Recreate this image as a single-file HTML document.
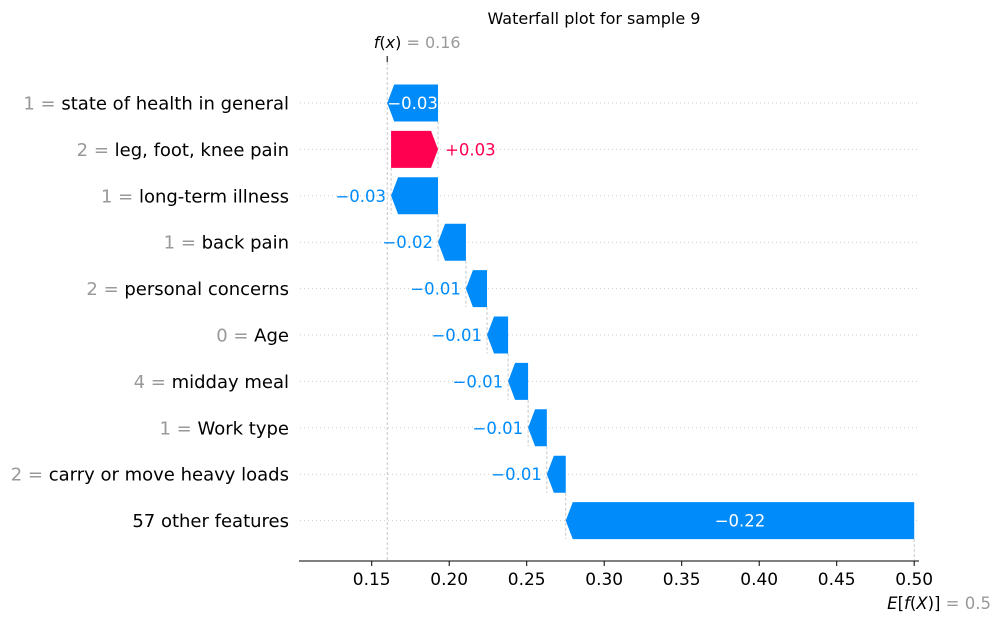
<!DOCTYPE html>
<html><head><meta charset="utf-8"><style>
body{margin:0;background:#fff;}
svg text{font-family:"DejaVu Sans","Liberation Sans",sans-serif;}
</style></head><body>
<svg id="c" width="1001" height="622" xmlns="http://www.w3.org/2000/svg">
<text x="594" y="24" font-size="16" text-anchor="middle">Waterfall plot for sample 9</text>
</svg>
<script>
const featureValues=["1","2","1","1","2","0","4","1","2",""];
const featureNames=["state of health in general","leg, foot, knee pain","long-term illness","back pain","personal concerns","Age","midday meal","Work type","carry or move heavy loads","57 other features"];
const shapValues=[-0.0328,0.0303,-0.0303,-0.018,-0.0136,-0.0136,-0.0129,-0.0121,-0.0122,-0.2248];
const valueLabels=["\u22120.03","+0.03","\u22120.03","\u22120.02","\u22120.01","\u22120.01","\u22120.01","\u22120.01","\u22120.01","\u22120.22"];
const baseValue=0.5;
const fxValue=0.16;
const tickValues=[0.15,0.20,0.25,0.30,0.35,0.40,0.45,0.50];
const tickLabels=["0.15","0.20","0.25","0.30","0.35","0.40","0.45","0.50"];

const svg=document.getElementById('c');
const NS="http://www.w3.org/2000/svg";
const X=v=>371.7+(v-0.15)*1550;
const Y=i=>103+i*46.4;
const BH=37, HEAD=7;
function mk(t,a){const e=document.createElementNS(NS,t);for(const k in a)e.setAttribute(k,a[k]);svg.appendChild(e);return e;}

for(let i=0;i<featureNames.length;i++){
  const g=mk('line',{x1:300,x2:918,y1:Y(i),y2:Y(i),stroke:'#ccc','stroke-width':1,'stroke-dasharray':'1,3'});
  
  
}
const fl=mk('line',{x1:X(fxValue),x2:X(fxValue),y1:62,y2:560,stroke:'#bbb','stroke-width':0.8,'stroke-dasharray':'3,2'});


const el=mk('line',{x1:X(baseValue),x2:X(baseValue),y1:Y(9)+BH/2,y2:560,stroke:'#bbb','stroke-width':0.8,'stroke-dasharray':'3,2'});


const ft=mk('line',{x1:X(fxValue),x2:X(fxValue),y1:56,y2:62,stroke:'#000','stroke-width':1});



const ends=[];let cur=baseValue;
for(let i=featureNames.length-1;i>=0;i--){const s=cur;cur=cur+shapValues[i];ends[i]=[s,cur];}
for(let i=0;i<featureNames.length;i++){
  const [s,e]=ends[i];
  const yc=Y(i),b=yc+BH/2;
  if(i>0){
    const c=mk('line',{x1:X(e),x2:X(e),y1:Y(i-1)+BH/2,y2:b,stroke:'#bbb','stroke-width':0.8,'stroke-dasharray':'3,2'});
    
    
  }
}
for(let i=0;i<featureNames.length;i++){
  const [s,e]=ends[i];const pos=shapValues[i]>0;
  const lo=Math.min(s,e),hi=Math.max(s,e);
  const x0=X(lo),x1=X(hi),yc=Y(i),t=yc-BH/2,b=yc+BH/2;
  const col=pos?'#ff0051':'#008bfb';
  let pts;
  if(pos) pts=`${x0},${t} ${x1-HEAD},${t} ${x1},${yc} ${x1-HEAD},${b} ${x0},${b}`;
  else pts=`${x0},${yc} ${x0+HEAD},${t} ${x1},${t} ${x1},${b} ${x0+HEAD},${b}`;
  const p=mk('polygon',{points:pts,fill:col});
  
  
  const w=x1-x0;const inside=w>50;
  let tx,anchor,fill;
  if(inside){tx=(x0+x1)/2;anchor='middle';fill='#fff';}
  else if(pos){tx=x1+7;anchor='start';fill=col;}
  else{tx=x0-5;anchor='end';fill=col;}
  const lt=mk('text',{x:tx,y:yc+6,'font-size':16.5,'text-anchor':anchor,fill:fill});
  lt.textContent=valueLabels[i];
  
  
  const yl=mk('text',{x:289,y:yc+6.5,'font-size':18,'text-anchor':'end'});
  
  
  if(featureValues[i]!==""){
    const s1=document.createElementNS(NS,'tspan');s1.setAttribute('fill','#999');s1.textContent=featureValues[i]+" = ";yl.appendChild(s1);
  }
  const s2=document.createElementNS(NS,'tspan');s2.setAttribute('fill','#000');s2.textContent=featureNames[i];yl.appendChild(s2);
}
const ax=mk('line',{x1:299,x2:919,y1:561,y2:561,stroke:'#000','stroke-width':1});


for(let k=0;k<tickValues.length;k++){
  const x=X(tickValues[k]);
  const tk=mk('line',{x1:x,x2:x,y1:561,y2:566,stroke:'#000','stroke-width':1});
  
  
  const tl=mk('text',{x:x,y:585,'font-size':17,'text-anchor':'middle'});
  tl.textContent=tickLabels[k];
  
  
}
const fxl=mk('text',{x:X(fxValue)+30,y:48,'font-size':16,'text-anchor':'middle'});


fxl.innerHTML='<tspan font-style="italic">f</tspan>(<tspan font-style="italic">x</tspan>)<tspan fill="#999"> = 0.16</tspan>';
const exl=mk('text',{x:991,y:609,'font-size':16.5,'text-anchor':'end'});


exl.innerHTML='<tspan font-style="italic">E</tspan>[<tspan font-style="italic">f</tspan>(<tspan font-style="italic">X</tspan>)]<tspan fill="#999"> = 0.5</tspan>';
</script>
</body></html>
